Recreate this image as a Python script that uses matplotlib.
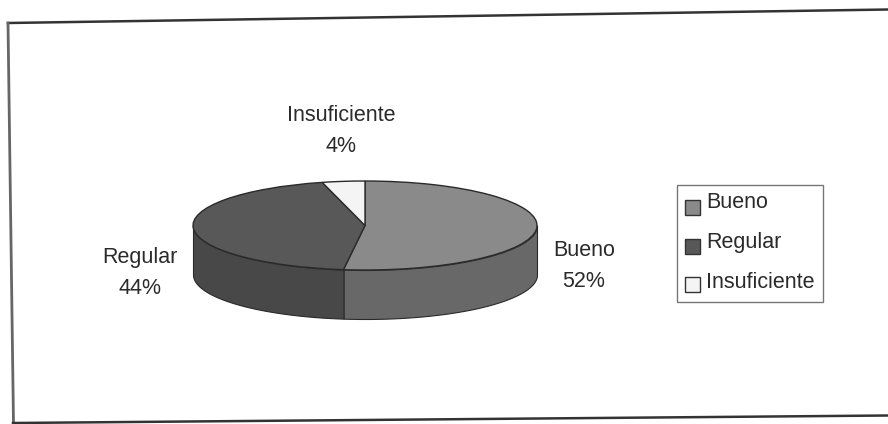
import numpy as np
import matplotlib
matplotlib.use('Agg')
import matplotlib.pyplot as plt
from matplotlib.patches import Rectangle

labels = ['Bueno', 'Regular', 'Insuficiente']
values = [52, 44, 4]
top_colors = ['#8a8a8a', '#585858', '#f4f4f4']
side_colors = ['#686868', '#484848', '#d0d0d0']

W, H = 888, 424
cx, cy = 365, 225.5
rx, ry = 172, 44.5
depth_px = 49

plt.rcParams['font.family'] = ['Liberation Sans', 'DejaVu Sans']
fig = plt.figure(figsize=(W / 100, H / 100), dpi=100, facecolor='white')
ax = fig.add_axes([0, 0, 1, 1])


def px(x, y):
    # picture pixels to figure fraction
    return x / W, 1 - y / H


# side wall, lower half of the ellipse only
depth = depth_px / ry
fracs = np.array(values) / sum(values)
ends = 90 - 360 * np.cumsum(fracs)
starts = np.r_[90, ends[:-1]]
for a0, a1, col in zip(starts, ends, side_colors):
    lo, hi = max(a1, -180), min(a0, 0)
    if lo >= hi:
        continue
    t = np.radians(np.linspace(lo, hi, 80))
    ax.fill_between(np.cos(t), np.sin(t), np.sin(t) - depth, color=col,
                    edgecolor='#2a2a2a', linewidth=0.8, zorder=1)

wedges, _ = ax.pie(values, colors=top_colors, startangle=90, counterclock=False,
                   radius=1, wedgeprops=dict(edgecolor='#2a2a2a', linewidth=1.0, zorder=2))
ax.set_aspect('auto')
ax.set_xlim(-cx / rx, (W - cx) / rx)
ax.set_ylim(-(H - cy) / ry, cy / ry)
ax.axis('off')

# chart frame, the scan is slightly skewed
fig.add_artist(plt.Line2D([8 / W, 1], [1 - 23 / H, 1 - 9.5 / H], color='#333333', lw=1.8))
fig.add_artist(plt.Line2D([8 / W, 13.5 / W], [1 - 23 / H, 1 - 424 / H], color='#666666', lw=2.0))
fig.add_artist(plt.Line2D([13 / W, 1], [1 - 423 / H, 1 - 415.5 / H], color='#333333', lw=1.8))

# slice labels
label_pos = [(584, 266), (140, 273), (341, 131)]
for name, val, (x, y) in zip(labels, values, label_pos):
    fx, fy = px(x, y)
    fig.text(fx, fy, f'{name}\n{val}%', ha='center', va='center', fontsize=15.5,
             color='#2a2a2a', linespacing=1.6)

# legend
x0, y0 = px(677, 302)
x1, y1 = px(823, 185)
fig.add_artist(Rectangle((x0, y0), x1 - x0, y1 - y0, transform=fig.transFigure,
                         facecolor='white', edgecolor='#777777', lw=1.0))
legend_y = [203, 242, 283]
swatch_y = [208, 247, 285]
for name, col, ty, sy in zip(labels, top_colors, legend_y, swatch_y):
    sx, sy0 = px(685, sy + 7)
    fig.add_artist(Rectangle((sx, sy0), 15 / W, 15 / H, transform=fig.transFigure,
                             facecolor=col, edgecolor='#333333', lw=1.0))
    tx, tyf = px(706, ty)
    fig.text(tx, tyf, name, ha='left', va='center', fontsize=15.5, color='#2a2a2a')

fig.savefig('out.png', dpi=100)
